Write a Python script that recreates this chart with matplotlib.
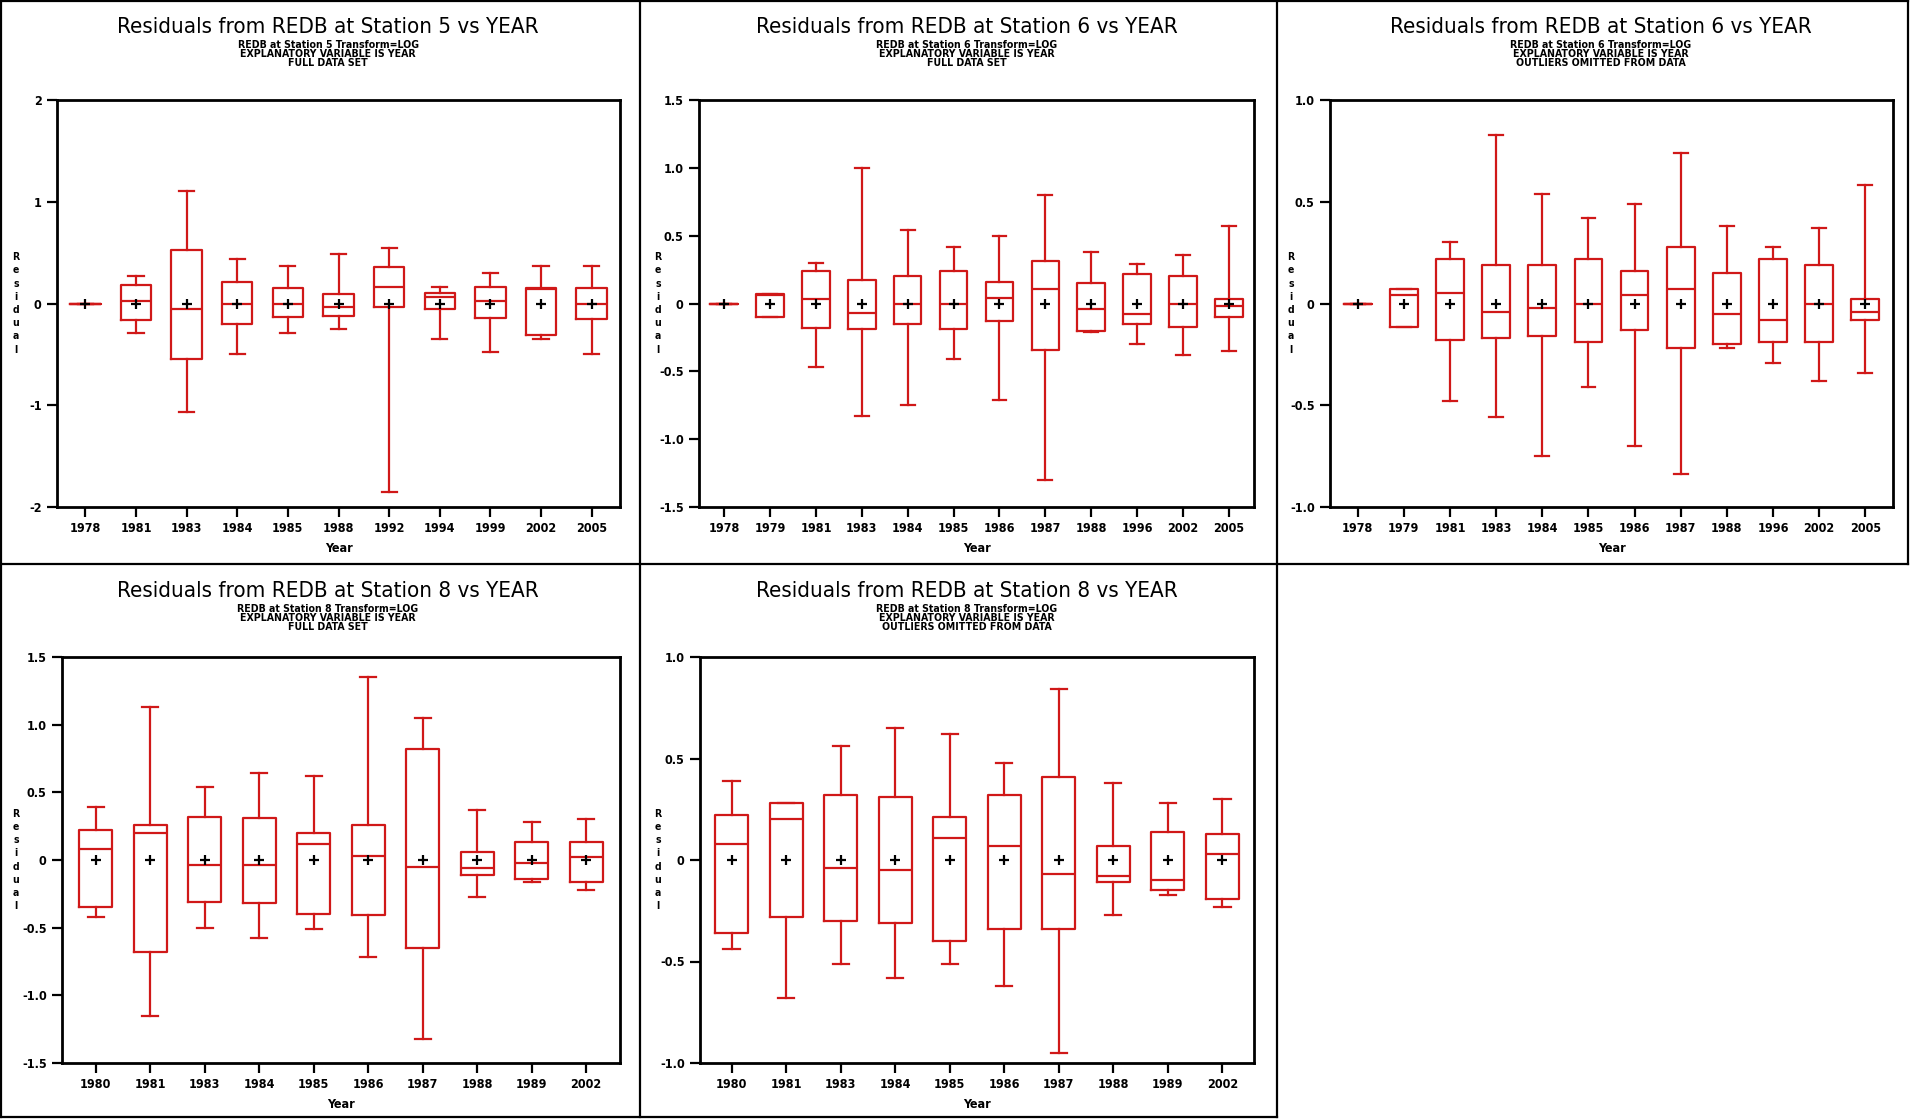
import matplotlib
matplotlib.use('Agg')
import matplotlib.pyplot as plt
from matplotlib import font_manager as fm
from matplotlib.lines import Line2D

# ---------------- data ----------------
titles = ["Residuals from REDB at Station 5 vs YEAR",
          "Residuals from REDB at Station 6 vs YEAR",
          "Residuals from REDB at Station 6 vs YEAR",
          "Residuals from REDB at Station 8 vs YEAR",
          "Residuals from REDB at Station 8 vs YEAR"]
subtitles = ["REDB at Station 5 Transform=LOG\nEXPLANATORY VARIABLE IS YEAR\nFULL DATA SET",
             "REDB at Station 6 Transform=LOG\nEXPLANATORY VARIABLE IS YEAR\nFULL DATA SET",
             "REDB at Station 6 Transform=LOG\nEXPLANATORY VARIABLE IS YEAR\nOUTLIERS OMITTED FROM DATA",
             "REDB at Station 8 Transform=LOG\nEXPLANATORY VARIABLE IS YEAR\nFULL DATA SET",
             "REDB at Station 8 Transform=LOG\nEXPLANATORY VARIABLE IS YEAR\nOUTLIERS OMITTED FROM DATA"]

years_s5 = ['1978', '1981', '1983', '1984', '1985', '1988', '1992', '1994', '1999', '2002', '2005']
s5_hi  = [0, 0.27, 1.11, 0.44, 0.37, 0.49, 0.55, 0.16, 0.30, 0.37, 0.37]
s5_q3  = [0, 0.18, 0.53, 0.21, 0.15, 0.09, 0.36, 0.10, 0.16, 0.15, 0.15]
s5_med = [0, 0.02, -0.05, 0.00, 0.00, -0.03, 0.16, 0.06, 0.02, 0.14, 0.00]
s5_q1  = [0, -0.16, -0.55, -0.20, -0.13, -0.12, -0.03, -0.05, -0.14, -0.31, -0.15]
s5_lo  = [0, -0.29, -1.07, -0.50, -0.29, -0.25, -1.85, -0.35, -0.48, -0.35, -0.50]
s5_mean = [0] * 11

years_s6 = ['1978', '1979', '1981', '1983', '1984', '1985', '1986', '1987', '1988', '1996', '2002', '2005']
s6_hi  = [0, 0.07, 0.30, 1.00, 0.54, 0.42, 0.50, 0.80, 0.38, 0.29, 0.36, 0.57]
s6_q3  = [0, 0.07, 0.24, 0.17, 0.20, 0.24, 0.16, 0.31, 0.15, 0.22, 0.20, 0.03]
s6_med = [0, 0.06, 0.03, -0.07, 0.00, 0.00, 0.04, 0.11, -0.04, -0.08, 0.00, -0.02]
s6_q1  = [0, -0.10, -0.18, -0.19, -0.15, -0.19, -0.13, -0.34, -0.20, -0.15, -0.17, -0.10]
s6_lo  = [0, -0.10, -0.47, -0.83, -0.75, -0.41, -0.71, -1.30, -0.21, -0.30, -0.38, -0.35]
s6_mean = [0] * 12

years_s6o = ['1978', '1979', '1981', '1983', '1984', '1985', '1986', '1987', '1988', '1996', '2002', '2005']
s6o_hi  = [0, 0.07, 0.30, 0.83, 0.54, 0.42, 0.49, 0.74, 0.38, 0.28, 0.37, 0.58]
s6o_q3  = [0, 0.07, 0.22, 0.19, 0.19, 0.22, 0.16, 0.28, 0.15, 0.22, 0.19, 0.02]
s6o_med = [0, 0.04, 0.05, -0.04, -0.02, 0.00, 0.04, 0.07, -0.05, -0.08, 0.00, -0.04]
s6o_q1  = [0, -0.115, -0.18, -0.17, -0.16, -0.19, -0.13, -0.22, -0.20, -0.19, -0.19, -0.08]
s6o_lo  = [0, -0.115, -0.48, -0.56, -0.75, -0.41, -0.70, -0.84, -0.22, -0.29, -0.38, -0.34]
s6o_mean = [0] * 12

years_s8 = ['1980', '1981', '1983', '1984', '1985', '1986', '1987', '1988', '1989', '2002']
s8_hi  = [0.39, 1.13, 0.54, 0.64, 0.62, 1.35, 1.05, 0.37, 0.28, 0.30]
s8_q3  = [0.22, 0.26, 0.32, 0.31, 0.20, 0.26, 0.82, 0.06, 0.13, 0.13]
s8_med = [0.08, 0.20, -0.04, -0.04, 0.12, 0.03, -0.05, -0.06, -0.02, 0.02]
s8_q1  = [-0.35, -0.68, -0.31, -0.32, -0.40, -0.41, -0.65, -0.11, -0.14, -0.16]
s8_lo  = [-0.42, -1.15, -0.50, -0.58, -0.51, -0.72, -1.32, -0.27, -0.16, -0.22]
s8_mean = [0] * 10

years_s8o = ['1980', '1981', '1983', '1984', '1985', '1986', '1987', '1988', '1989', '2002']
s8o_hi  = [0.39, 0.28, 0.56, 0.65, 0.62, 0.48, 0.84, 0.38, 0.28, 0.30]
s8o_q3  = [0.22, 0.28, 0.32, 0.31, 0.21, 0.32, 0.41, 0.07, 0.14, 0.13]
s8o_med = [0.08, 0.20, -0.04, -0.05, 0.11, 0.07, -0.07, -0.08, -0.10, 0.03]
s8o_q1  = [-0.36, -0.28, -0.30, -0.31, -0.40, -0.34, -0.34, -0.11, -0.15, -0.19]
s8o_lo  = [-0.44, -0.68, -0.51, -0.58, -0.51, -0.62, -0.95, -0.27, -0.17, -0.23]
s8o_mean = [0] * 10

yt_s5 = [-2, -1, 0, 1, 2]
ytl_s5 = ['-2', '-1', '0', '1', '2']
yt_15 = [-1.5, -1.0, -0.5, 0, 0.5, 1.0, 1.5]
ytl_15 = ['-1.5', '-1.0', '-0.5', '0', '0.5', '1.0', '1.5']
yt_10 = [-1.0, -0.5, 0, 0.5, 1.0]
ytl_10 = ['-1.0', '-0.5', '0', '0.5', '1.0']

# ---------------- style ----------------
W, H = 1910, 1119
RED = '#d01818'
names = {f.name for f in fm.fontManager.ttflist}
if 'Liberation Sans Narrow' in names:
    NARROW = dict(family='Liberation Sans Narrow')
else:
    NARROW = dict(family='DejaVu Sans', stretch='condensed')

fig = plt.figure(figsize=(W / 100, H / 100), dpi=100)
fig.patch.set_facecolor('white')


def frac_rect(x0, y0, x1, y1):
    return [x0 / W, 1 - y1 / H, (x1 - x0) / W, (y1 - y0) / H]


panels = [
    dict(data=(years_s5, s5_lo, s5_q1, s5_med, s5_q3, s5_hi, s5_mean), rect=(57, 100, 620, 507),
         ylim=(-2, 2), yt=yt_s5, ytl=ytl_s5, frame=(0, 0, 640, 564), ylab_x=16, pad=0.56),
    dict(data=(years_s6, s6_lo, s6_q1, s6_med, s6_q3, s6_hi, s6_mean), rect=(699, 100, 1254, 507),
         ylim=(-1.5, 1.5), yt=yt_15, ytl=ytl_15, frame=(640, 0, 1277, 564), ylab_x=658, pad=0.55),
    dict(data=(years_s6o, s6o_lo, s6o_q1, s6o_med, s6o_q3, s6o_hi, s6o_mean), rect=(1330, 100, 1893, 507),
         ylim=(-1.0, 1.0), yt=yt_10, ytl=ytl_10, frame=(1277, 0, 1908, 564), ylab_x=1291, pad=0.6),
    dict(data=(years_s8, s8_lo, s8_q1, s8_med, s8_q3, s8_hi, s8_mean), rect=(62, 657, 620, 1063),
         ylim=(-1.5, 1.5), yt=yt_15, ytl=ytl_15, frame=(0, 564, 640, 1117), ylab_x=16, pad=0.62),
    dict(data=(years_s8o, s8o_lo, s8o_q1, s8o_med, s8o_q3, s8o_hi, s8o_mean), rect=(700, 657, 1254, 1063),
         ylim=(-1.0, 1.0), yt=yt_10, ytl=ytl_10, frame=(640, 564, 1277, 1117), ylab_x=658, pad=0.58),
]

for i, p in enumerate(panels):
    years, lo, q1, med, q3, hi, mean = p['data']
    n = len(years)
    stats = [dict(whislo=lo[k], q1=q1[k], med=med[k], q3=q3[k], whishi=hi[k], mean=mean[k], fliers=[])
             for k in range(n)]
    ax = fig.add_axes(frac_rect(*p['rect']))
    ax.bxp(stats, positions=list(range(n)), widths=0.6, capwidths=0.3, showmeans=True,
           boxprops=dict(color=RED, lw=1.6), whiskerprops=dict(color=RED, lw=1.6),
           capprops=dict(color=RED, lw=1.6), medianprops=dict(color=RED, lw=1.6),
           meanprops=dict(marker='+', markeredgecolor='black', markersize=7.5, markeredgewidth=1.6))
    ax.set_xlim(-p['pad'], n - 1 + p['pad'])
    ax.set_ylim(*p['ylim'])
    ax.set_xticks(list(range(n)))
    ax.set_xticklabels(years, fontsize=9, fontweight='bold', **NARROW)
    ax.set_yticks(p['yt'])
    ax.set_yticklabels(p['ytl'], fontsize=9, fontweight='bold', **NARROW)
    ax.tick_params(direction='out', length=7, width=1.6, pad=4, colors='black')
    for s in ax.spines.values():
        s.set_linewidth(2.0)
        s.set_color('black')
    ax.set_xlabel('Year', fontsize=9, fontweight='bold', labelpad=5, **NARROW)

    fx0, fy0, fx1, fy1 = p['frame']
    cx = (fx0 + fx1) / 2 + 8
    fig.text(cx / W, 1 - (fy0 + 27) / H, titles[i], ha='center', va='center',
             fontsize=16, **NARROW)
    fig.text(cx / W, 1 - (fy0 + 54) / H, subtitles[i], ha='center', va='center',
             fontsize=7.6, fontweight='bold', linespacing=0.82, **NARROW)
    ycen = (p['rect'][1] + p['rect'][3]) / 2
    fig.text(p['ylab_x'] / W, 1 - ycen / H, '\n'.join('Residual'), ha='center', va='center',
             fontsize=7.5, fontweight='bold', linespacing=1.4, **NARROW)

# panel borders (drawn once per edge so shared edges are not doubled)
border_segments = [
    ((1, 1908), (1, 1)),          # top edge
    ((1, 1908), (564, 564)),      # middle horizontal
    ((1, 1277), (1117, 1117)),    # bottom edge of lower row
    ((1, 1), (1, 1117)),          # left edge
    ((640, 640), (1, 1117)),      # first divider
    ((1277, 1277), (1, 1117)),    # second divider
    ((1908, 1908), (1, 564)),     # right edge of top row
]
for (xs, ys) in border_segments:
    fig.add_artist(Line2D([x / W for x in xs], [1 - y / H for y in ys],
                          transform=fig.transFigure, color='black', lw=1.6))

fig.savefig('out.png', dpi=100, facecolor='white')
